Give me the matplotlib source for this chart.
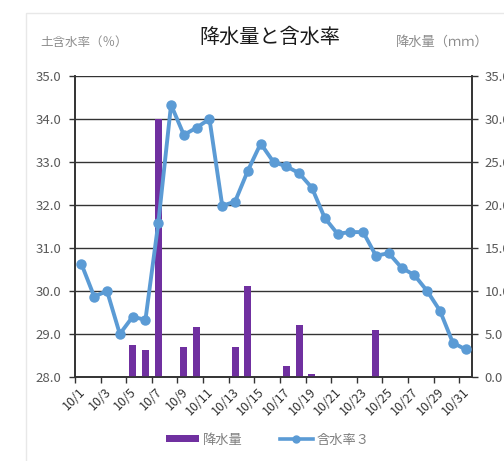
import matplotlib
matplotlib.use("Agg")
import matplotlib.pyplot as plt
from matplotlib.patches import Rectangle, Patch
from matplotlib.lines import Line2D
import numpy as np

plt.rcParams['font.family'] = ['Noto Sans CJK JP', 'DejaVu Sans']

dates = [f"10/{d}" for d in range(1, 32)]
rain = [0, 0, 0, 0, 3.7, 3.1, 30.0, 0, 3.5, 5.8, 0, 0, 3.5, 10.6, 0, 0,
        1.3, 6.0, 0.3, 0, 0, 0, 0, 5.5, 0, 0, 0, 0, 0, 0, 0]
moisture = [30.63, 29.87, 30.0, 29.0, 29.4, 29.33, 31.57, 34.33, 33.63, 33.8,
            34.0, 31.98, 32.08, 32.8, 33.43, 33.0, 32.9, 32.74, 32.4, 31.7,
            31.33, 31.37, 31.37, 30.82, 30.88, 30.54, 30.37, 30.0, 29.54,
            28.8, 28.64]
left_ticks = [28, 29, 30, 31, 32, 33, 34, 35]
right_ticks = [0, 5, 10, 15, 20, 25, 30, 35]

fig = plt.figure(figsize=(5.04, 4.61), dpi=100)
fig.patches.append(Rectangle((26/504, -0.1), 1.2, (461-13)/461 + 0.1,
                             transform=fig.transFigure, fill=False,
                             edgecolor='#e8e8e8', lw=1))

ax1 = fig.add_axes([75/504, 84/461, 397/504, 301/461])
ax2 = ax1.twinx()
ax1.set_zorder(ax2.get_zorder() + 1)
ax1.patch.set_visible(False)

x = np.arange(1, 32)
ax2.bar(x, rain, width=0.55, color='#7030A0', zorder=3)
ax2.set_ylim(0, 35)
ax2.set_yticks(right_ticks)
ax2.set_yticklabels([f"{v:.1f}" for v in right_ticks])
ax2.grid(axis='y', color='#333333', lw=1, zorder=0)
ax2.set_axisbelow(True)

ax1.plot(x, moisture, color='#5B9BD5', lw=2.8, marker='o', ms=6.5, zorder=4)
ax1.set_ylim(28, 35)
ax1.set_yticks(left_ticks)
ax1.set_yticklabels([f"{v:.1f}" for v in left_ticks])
ax1.set_xlim(0.5, 31.5)

# x ticks: marks at boundaries every 2 days, labels on odd days
ax1.set_xticks(np.arange(0.5, 32, 2), minor=True)
ax1.set_xticks(x[::2] - 0.2)
ax1.set_xticklabels(dates[::2], rotation=45, ha='right', va='top',
                    rotation_mode='anchor')
ax1.tick_params(axis='x', which='major', length=0, pad=6, labelsize=9,
                labelcolor='#333333')
ax1.tick_params(axis='x', which='minor', length=4, width=1, color='#333333')
ax1.tick_params(axis='y', length=4, width=1, pad=6, labelsize=9.5,
                labelcolor='#595959', color='#333333')
ax2.tick_params(axis='y', length=4, width=1, pad=5, labelsize=9.5,
                labelcolor='#595959', color='#333333')

for a in (ax1, ax2):
    a.spines['top'].set_visible(False)
    for s in ('left', 'right', 'bottom'):
        a.spines[s].set_color('#333333')
        a.spines[s].set_linewidth(1.2)

fig.text(270/504, (461-37)/461, "降水量と含水率", ha='center', va='center',
         fontsize=14.5, color='#1a1a1a')
fig.text(40/504, (461-42)/461, "土含水率（％）", ha='left', va='center',
         fontsize=9, color='#8c8c8c')
fig.text(396/504, (461-42)/461, "降水量（ｍｍ）", ha='left', va='center',
         fontsize=9.5, color='#8c8c8c')

handles = [Patch(facecolor='#7030A0', edgecolor='none'),
           Line2D([0], [0], color='#5B9BD5', lw=2.6, marker='o', ms=5)]
fig.legend(handles, ["降水量", "含水率３"], loc='center',
           bbox_to_anchor=(268/504, (461-440)/461), ncol=2, frameon=False,
           fontsize=9.5, labelcolor='#7f7f7f', handlelength=2.5,
           handleheight=0.45, columnspacing=2.8, handletextpad=0.3)

fig.savefig("out.png", dpi=100)
